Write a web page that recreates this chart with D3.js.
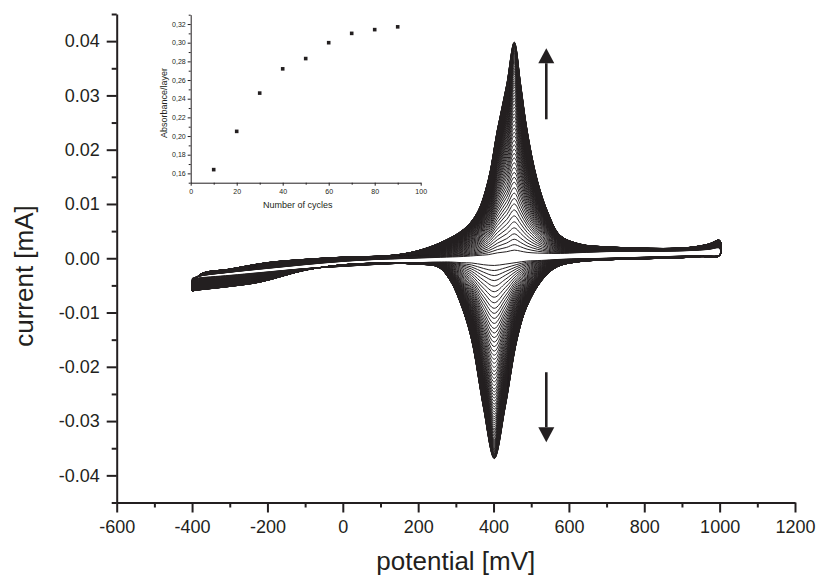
<!DOCTYPE html>
<html>
<head>
<meta charset="utf-8">
<script src="https://cdn.jsdelivr.net/npm/d3@7"></script>
<style>
  html, body { margin: 0; padding: 0; background: #fff; }
  svg { display: block; font-family: "Liberation Sans", Arial, sans-serif; }
</style>
</head>
<body>
<svg width="816" height="578"></svg>
<script>
// forward (anodic) scan: potential in mV, current in mA
var fwdPotential = [-400, -380, -300, -200, -100, 0, 100, 150, 200, 260, 320, 356, 386, 410, 435, 455, 472, 489, 516, 545, 577, 630, 700, 780, 850, 920, 970, 1000];
var fwdLast  = [-0.0052, -0.0030, -0.0020, -0.0008, -0.0002, 0.0002, 0.0004, 0.0007, 0.0014, 0.0029, 0.0053, 0.0083, 0.0144, 0.0236, 0.0320, 0.0398, 0.0320, 0.0236, 0.0144, 0.0083, 0.0042, 0.0026, 0.0021, 0.0019, 0.0018, 0.0020, 0.0026, 0.0033];
var fwdFirst = [-0.0037, -0.0033, -0.0026, -0.0019, -0.0012, -0.0006, -0.0002, -0.0001, 0.0000, 0.0001, 0.0002, 0.0003, 0.0003, 0.0004, 0.0004, 0.0005, 0.0005, 0.0005, 0.0006, 0.0007, 0.0008, 0.0010, 0.0012, 0.0013, 0.0013, 0.0014, 0.0016, 0.0018];

// reverse (cathodic) scan
var revPotential = [1000, 950, 900, 800, 700, 620, 568, 528, 488, 462, 431, 402, 373, 342, 316, 285, 253, 200, 100, 0, -100, -220, -300, -390, -400];
var revLast  = [0.0005, 0.0003, 0.0001, -0.0001, -0.0003, -0.0007, -0.0016, -0.0041, -0.0090, -0.0151, -0.0274, -0.0369, -0.0274, -0.0151, -0.0090, -0.0041, -0.0016, -0.0011, -0.0009, -0.0012, -0.0022, -0.0044, -0.0052, -0.0059, -0.0060];
var revFirst = [0.0006, 0.0005, 0.0004, 0.0002, 0.0000, -0.0001, -0.0002, -0.0003, -0.0003, -0.0004, -0.0004, -0.0004, -0.0005, -0.0005, -0.0006, -0.0006, -0.0007, -0.0008, -0.0011, -0.0015, -0.0019, -0.0026, -0.0031, -0.0036, -0.0037];

// anodic peak current of every recorded cycle (mA)
var cyclePeak = [0.0015, 0.0025, 0.0035, 0.0045, 0.0056, 0.0067, 0.0078, 0.0089, 0.0100, 0.0110,
  0.0120, 0.0130, 0.0140, 0.0149, 0.0158, 0.0167, 0.0176, 0.0185, 0.0193, 0.0201,
  0.0209, 0.0217, 0.0225, 0.0232, 0.0239, 0.0246, 0.0253, 0.0260, 0.0266, 0.0272,
  0.0278, 0.0284, 0.0290, 0.0295, 0.0300, 0.0305, 0.0310, 0.0315, 0.0319, 0.0323,
  0.0327, 0.0331, 0.0335, 0.0339, 0.0342, 0.0345, 0.0348, 0.0351, 0.0354, 0.0357,
  0.0360, 0.0362, 0.0364, 0.0366, 0.0368, 0.0370, 0.0372, 0.0374, 0.0376, 0.0378,
  0.0379, 0.0381, 0.0382, 0.0384, 0.0385, 0.0387, 0.0388, 0.0389, 0.0390, 0.0391,
  0.0392, 0.0393, 0.0394, 0.0395, 0.0396, 0.0397, 0.0397, 0.0398, 0.0398];

// arrows (potential, current from -> to)
var arrowPotential = [540, 540];
var arrowFrom = [0.0256, -0.0210];
var arrowTo = [0.0387, -0.0339];

// inset
var insetCycles = [10, 20, 30, 40, 50, 60, 70, 80, 90];
var insetAbsorbance = [0.164, 0.205, 0.246, 0.272, 0.283, 0.300, 0.310, 0.314, 0.317];

var ink = "#231f20";
var svg = d3.select("svg");

var x = d3.scaleLinear().domain([-600, 1200]).range([116.7, 795]);
var y = d3.scaleLinear().domain([-0.045, 0.045]).range([502.5, 14]);

// ---- voltammograms ----
var iPeak = fwdPotential.indexOf(455);
var peakFirst = fwdFirst[iPeak], peakLast = fwdLast[iPeak];

var loop = d3.line()
    .x(function(d) { return x(d[0]); })
    .y(function(d) { return y(d[1]); })
    .curve(d3.curveCatmullRomClosed.alpha(0.5));

var cycles = cyclePeak.map(function(p) {
  var f = (p - peakFirst) / (peakLast - peakFirst);
  var pts = fwdPotential.map(function(e, i) {
    return [e, fwdFirst[i] + f * (fwdLast[i] - fwdFirst[i])];
  });
  revPotential.forEach(function(e, i) {
    pts.push([e, revFirst[i] + f * (revLast[i] - revFirst[i])]);
  });
  return pts;
});

svg.append("g")
    .attr("class", "cycles")
  .selectAll("path")
  .data(cycles)
  .enter().append("path")
    .attr("d", loop)
    .attr("fill", "none")
    .attr("stroke", ink)
    .attr("stroke-width", 1);

// ---- arrows ----
var arrows = svg.append("g").attr("class", "arrows");
arrowPotential.forEach(function(e, i) {
  var x0 = x(e), y0 = y(arrowFrom[i]), y1 = y(arrowTo[i]);
  var dir = y1 < y0 ? -1 : 1, head = 15, half = 8;
  arrows.append("line")
      .attr("x1", x0).attr("x2", x0)
      .attr("y1", y0).attr("y2", y1 - dir * head)
      .attr("stroke", ink)
      .attr("stroke-width", 2.6);
  arrows.append("path")
      .attr("d", "M" + x0 + "," + y1 +
                 "L" + (x0 - half) + "," + (y1 - dir * head) +
                 "L" + (x0 + half) + "," + (y1 - dir * head) + "Z")
      .attr("fill", ink);
});

// ---- main axes ----
var yMajor = d3.range(-4, 5).map(function(d) { return d / 100; });
var yMinor = d3.range(-9, 10, 2).map(function(d) { return d / 200; });
var xMajor = d3.range(-600, 1201, 200);
var xMinor = d3.range(-500, 1200, 200);

function styleAxis(g) {
  g.selectAll("path, line").attr("stroke", ink).attr("stroke-width", 2);
  g.selectAll("text").attr("fill", ink).attr("font-size", 18)
      .attr("font-family", "Liberation Sans, Arial, sans-serif");
}

svg.append("g")
    .attr("transform", "translate(" + x.range()[0] + ",0)")
    .call(d3.axisLeft(y).tickValues(yMinor).tickSize(5).tickSizeOuter(0).tickFormat(""))
    .call(function(g) { g.select(".domain").remove(); })
    .call(styleAxis);

svg.append("g")
    .attr("transform", "translate(" + x.range()[0] + ",0)")
    .call(d3.axisLeft(y).tickValues(yMajor).tickSize(10).tickSizeOuter(0).tickPadding(7)
      .tickFormat(function(d) { return d.toFixed(2); }))
    .call(styleAxis);

svg.append("g")
    .attr("transform", "translate(0," + y.range()[0] + ")")
    .call(d3.axisBottom(x).tickValues(xMinor).tickSize(5).tickSizeOuter(0).tickFormat(""))
    .call(function(g) { g.select(".domain").remove(); })
    .call(styleAxis);

svg.append("g")
    .attr("transform", "translate(0," + y.range()[0] + ")")
    .call(d3.axisBottom(x).tickValues(xMajor).tickSize(10).tickSizeOuter(0).tickPadding(8)
      .tickFormat(function(d) { return String(d); }))
    .call(styleAxis);

svg.append("text")
    .attr("x", (x.range()[0] + x.range()[1]) / 2)
    .attr("y", 570)
    .attr("text-anchor", "middle")
    .attr("font-size", 26)
    .attr("fill", ink)
    .text("potential [mV]");

svg.append("text")
    .attr("transform", "translate(33,276) rotate(-90)")
    .attr("text-anchor", "middle")
    .attr("font-size", 26)
    .attr("fill", ink)
    .text("current [mA]");

// ---- inset ----
var ix = d3.scaleLinear().domain([0, 100]).range([190.7, 420.7]);
var iy = d3.scaleLinear().domain([0.15, 0.33]).range([182.7, 14.7]);
var inset = svg.append("g").attr("class", "inset");

function styleInset(g) {
  g.selectAll("path, line").attr("stroke", ink).attr("stroke-width", 1);
  g.selectAll("text").attr("fill", ink).attr("font-size", 7)
      .attr("font-family", "Liberation Sans, Arial, sans-serif");
}

inset.append("g")
    .attr("transform", "translate(" + ix.range()[0] + ",0)")
    .call(d3.axisLeft(iy).tickValues(d3.range(15, 34, 2).map(function(d) { return d / 100; }))
      .tickSize(2).tickSizeOuter(0).tickFormat(""))
    .call(function(g) { g.select(".domain").remove(); })
    .call(styleInset);

inset.append("g")
    .attr("transform", "translate(" + ix.range()[0] + ",0)")
    .call(d3.axisLeft(iy).tickValues(d3.range(16, 33, 2).map(function(d) { return d / 100; }))
      .tickSize(3).tickSizeOuter(0).tickPadding(2)
      .tickFormat(function(d) { return d.toFixed(2).replace(".", ","); }))
    .call(styleInset);

inset.append("g")
    .attr("transform", "translate(0," + iy.range()[0] + ")")
    .call(d3.axisBottom(ix).tickValues(d3.range(10, 100, 20)).tickSize(2).tickSizeOuter(0).tickFormat(""))
    .call(function(g) { g.select(".domain").remove(); })
    .call(styleInset);

inset.append("g")
    .attr("transform", "translate(0," + iy.range()[0] + ")")
    .call(d3.axisBottom(ix).tickValues(d3.range(0, 101, 20)).tickSize(3).tickSizeOuter(0).tickPadding(3))
    .call(styleInset);

inset.selectAll("rect.pt")
  .data(insetCycles)
  .enter().append("rect")
    .attr("class", "pt")
    .attr("x", function(d) { return ix(d) - 1.8; })
    .attr("y", function(d, i) { return iy(insetAbsorbance[i]) - 1.8; })
    .attr("width", 3.6)
    .attr("height", 3.6)
    .attr("fill", ink);

inset.append("text")
    .attr("x", (ix.range()[0] + ix.range()[1]) / 2 - 8)
    .attr("y", 207.5)
    .attr("text-anchor", "middle")
    .attr("font-size", 9)
    .attr("fill", ink)
    .text("Number of cycles");

inset.append("text")
    .attr("transform", "translate(166.5,103) rotate(-90)")
    .attr("text-anchor", "middle")
    .attr("font-size", 9)
    .attr("fill", ink)
    .text("Absorbance/layer");
</script>
</body>
</html>
